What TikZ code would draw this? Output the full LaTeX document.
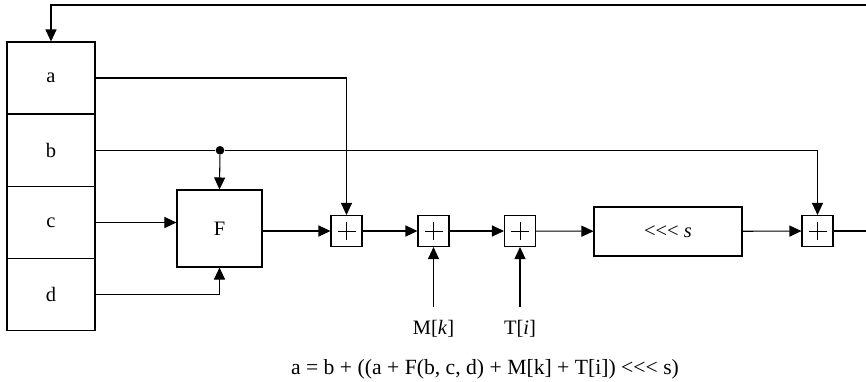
\documentclass[tikz,border=0pt]{standalone}
\usepackage{fontspec}
\setmainfont{Liberation Serif}
\usetikzlibrary{arrows.meta}
\newcommand{\rotl}{\textless{}\textless{}\textless{}}
\begin{document}
\begin{tikzpicture}[x=0.03cm, y=-0.03cm, line width=0.9pt, font=\fontsize{17.5}{20}\selectfont,
	>={Triangle[length=0.36cm, width=0.33cm]},
	regbox/.style={draw, minimum width=2.64cm, minimum height=2.16cm, inner sep=0pt},
	funbox/.style={draw, minimum width=2.55cm, minimum height=2.31cm},
	rotbox/.style={draw, minimum width=4.44cm, minimum height=1.47cm},
	sumbox/.style={draw, minimum size=0.93cm, inner sep=0pt,
		path picture={\draw[line width=0.7pt]
			([xshift=-0.27cm]path picture bounding box.center) -- ([xshift=0.27cm]path picture bounding box.center)
			([yshift=-0.27cm]path picture bounding box.center) -- ([yshift=0.27cm]path picture bounding box.center);}},
	lbl/.style={inner sep=0pt, outer sep=0.42cm},
	junc/.style={circle, fill, inner sep=0pt, minimum size=0.26cm}]
	\useasboundingbox (0,0) rectangle (866,381);
	% register column a, b, c, d
	\foreach \n/\y in {a/78, b/150.3, c/222.5, d/294.8} {
		\node[regbox] (\n) at (51,\y) {\n};
	}
	\node[funbox] (F) at (219.5,228.5) {F};
	% adders along the main line
	\foreach \n/\x in {add1/346.5, add2/433.5, add3/520, add4/817.5} {
		\node[sumbox] (\n) at (\x,231) {};
	}
	\node[rotbox] (rot) at (668,231.5) {\rotl{} \textit{s}};
	\node[lbl] (Mk) at (433.5,329) {M[\textit{k}]};
	\node[lbl] (Ti) at (520,329) {T[\textit{i}]};
	\node[font=\fontsize{18.5}{21}\selectfont] (eq) at (485,369)
		{a = b + ((a + F(b, c, d) + M[k] + T[i]) \rotl{} s)};
	\node[junc] (bj) at (220,150.3) {};
	\coordinate (top) at (866,5);
	\coordinate (out) at (866,231);

	% inputs of F
	\draw (b.east) -- (bj);
	\draw[->] (bj) -- (F.north);
	\draw[->] (c.east) -- (c.east -| F.west);
	\draw[->] (d.east) -| (F.south);
	% main line
	\draw[->] (F.east |- add1.west) -- (add1.west);
	\draw[->] (add1) -- (add2);
	\draw[->] (add2) -- (add3);
	\draw[->] (add3) -- (rot);
	\draw[->] (rot) -- (add4);
	\draw (add4.east) -- (out);
	% side inputs
	\draw[->] (a.east) -| (add1.north);
	\draw[->] (bj) -| (add4.north);
	\draw[->] (Mk) -- (add2);
	\draw[->] (Ti) -- (add3);
	% feedback to a
	\draw[->] (top) -| (a.north);
\end{tikzpicture}
\end{document}
